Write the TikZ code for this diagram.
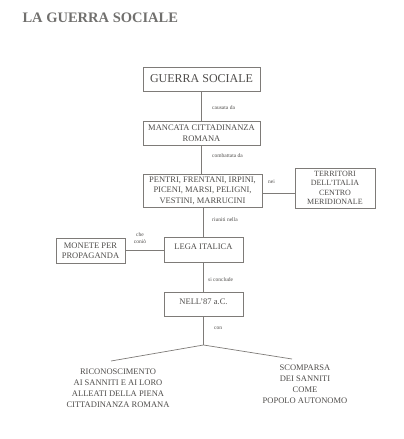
\documentclass[tikz,border=0pt]{standalone}
\usepackage{fontspec}
\setmainfont{Liberation Serif}
\usetikzlibrary{positioning}

\definecolor{inkgray}{HTML}{4E4C4A}
\definecolor{linegray}{HTML}{7E7B78}

\begin{document}
\begin{tikzpicture}[x=1pt, y=-1pt,
  box/.style={draw=linegray, line width=0.7pt, text=inkgray, align=center,
    font=\fontsize{8.5}{10.5}\selectfont, inner sep=2pt},
  lbl/.style={text=inkgray, font=\fontsize{5.5}{6.5}\selectfont, inner sep=0pt, anchor=west},
  link/.style={draw=linegray, line width=0.7pt},
  leaf/.style={text=inkgray, align=center, font=\fontsize{8.5}{11}\selectfont}]
\useasboundingbox (0,0) rectangle (404,439);
% title
\node[anchor=west, text=inkgray!80, font=\fontsize{14.5}{16}\selectfont\bfseries] (title) at (19,18) {LA GUERRA SOCIALE};
% boxes
\node[box, minimum width=117pt, minimum height=24pt, font=\fontsize{12}{14}\selectfont] (guerra) at (201.5,79) {GUERRA SOCIALE};
\node[box, minimum width=117pt, minimum height=24pt] (mancata) at (201.5,133) {MANCATA CITTADINANZA\\ROMANA};
\node[box, minimum width=119pt, minimum height=33pt] (popoli) at (202.5,190.5) {PENTRI, FRENTANI, IRPINI,\\PICENI, MARSI, PELIGNI,\\VESTINI, MARRUCINI};
\node[box, minimum width=80pt, minimum height=40pt, font=\fontsize{8}{9.5}\selectfont] (territori) at (335,188) {TERRITORI\\DELL'ITALIA\\CENTRO\\MERIDIONALE};
\node[box, minimum width=79pt, minimum height=25pt, text depth=6pt] (lega) at (203.5,249.5) {LEGA ITALICA};
\node[box, minimum width=69pt, minimum height=25pt] (monete) at (90.5,250.5) {MONETE PER\\PROPAGANDA};
\node[box, minimum width=79pt, minimum height=24pt, text depth=5pt] (nell) at (203.5,304) {NELL'87 a.C.};
% connectors
\draw[link] (guerra.south) -- (mancata.north);
\draw[link] (mancata.south) -- (mancata.south |- popoli.north);
\draw[link] (popoli.east |- 0,193) -- (territori.west |- 0,193);
\draw[link] (lega.north) -- (lega.north |- popoli.south);
\draw[link] (monete.east) -- (monete.east -| lega.west);
\draw[link] (lega.south) -- (nell.north);
\coordinate (fork) at (203.5,345);
\coordinate (leftend) at (111,361);
\coordinate (rightend) at (292,359);
\draw[link] (nell.south) -- (fork);
\draw[link] (leftend) -- (fork) -- (rightend);
% link labels
\node[lbl] (causata) at (212,108) {causata da};
\node[lbl] (combattata) at (212,156) {combattata da};
\node[lbl] (nei) at (268,182) {nei};
\node[lbl] (riuniti) at (212,220) {riuniti nella};
\node[lbl, anchor=center, align=center] (conio) at (140,238) {che\\coniò};
\node[lbl] (conclude) at (208,280) {si conclude};
\node[lbl] (con) at (214,328) {con};
% results
\node[leaf] (riconoscimento) at (118,388.5) {RICONOSCIMENTO\\AI SANNITI E AI LORO\\ALLEATI DELLA PIENA\\CITTADINANZA ROMANA};
\node[leaf] (scomparsa) at (305,384.5) {SCOMPARSA\\DEI SANNITI\\COME\\POPOLO AUTONOMO};
\end{tikzpicture}
\end{document}
